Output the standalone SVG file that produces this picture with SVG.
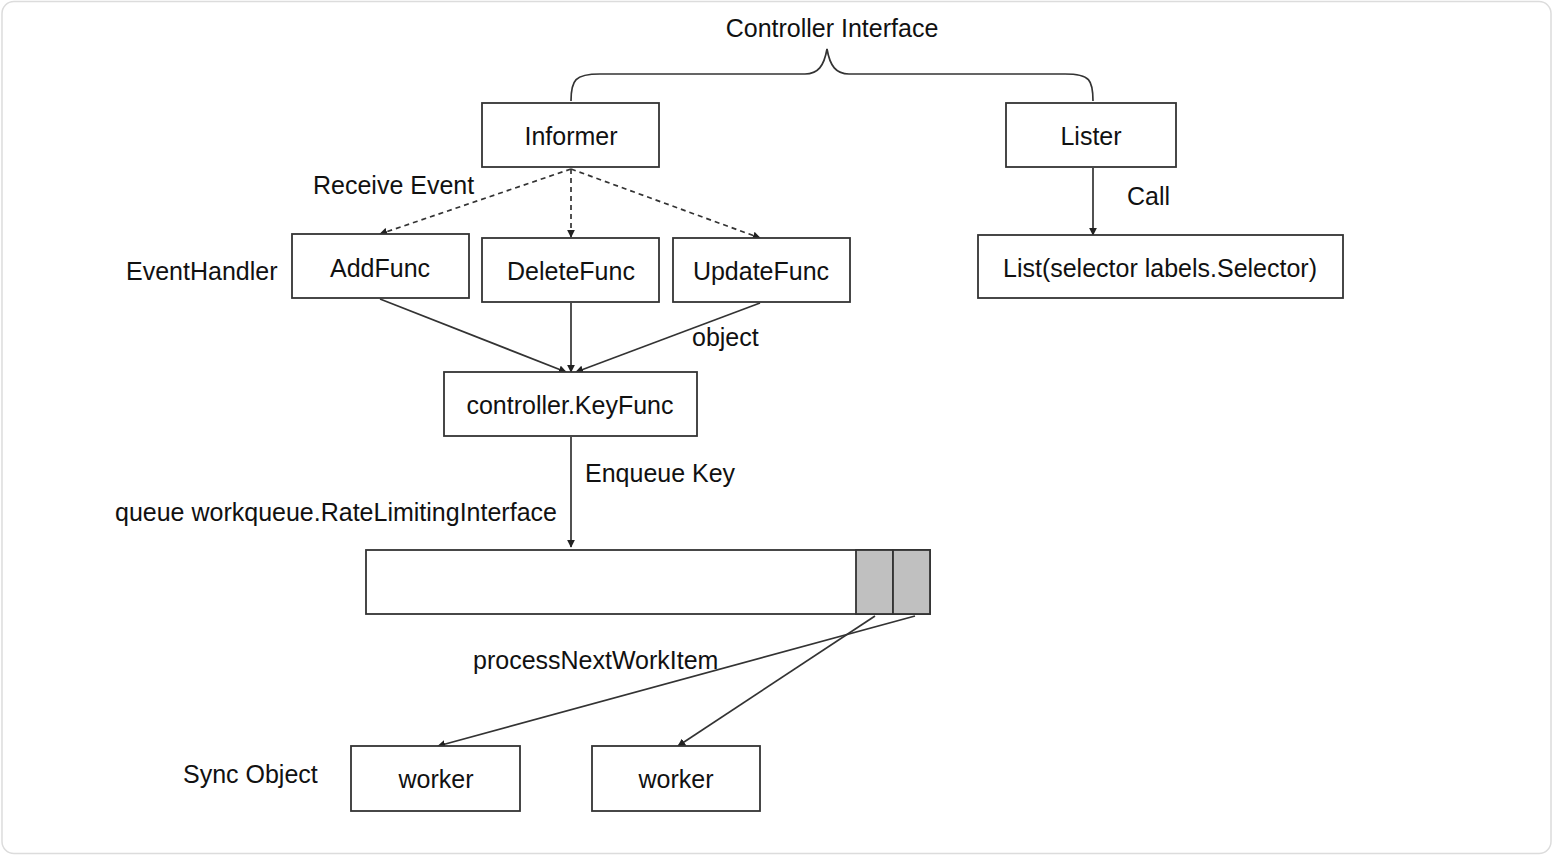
<svg xmlns="http://www.w3.org/2000/svg" width="1554" height="856" viewBox="0 0 1554 856">
  <style>
    .box { fill: #ffffff; stroke: #333333; stroke-width: 1.8; }
    .cell { fill: #c0c0c0; stroke: #333333; stroke-width: 1.8; }
    .lbl { font-family: "Liberation Sans", Arial, sans-serif; font-size: 25px; fill: #111111; }
    .mid { text-anchor: middle; }
    .edge { fill: none; stroke: #333333; stroke-width: 1.7; }
    .dash { stroke-dasharray: 5 4; }
  </style>
  <defs>
    <marker id="arrow" viewBox="0 0 10 10" refX="9" refY="5" markerWidth="8" markerHeight="8" orient="auto" markerUnits="userSpaceOnUse">
      <path d="M0,0 L10,5 L0,10 z" fill="#222222"/>
    </marker>
  </defs>

  <!-- card frame -->
  <rect x="2" y="1.5" width="1549" height="852" rx="12" ry="12" fill="#ffffff" stroke="#dcdcdc" stroke-width="1.5"/>

  <!-- title and brace -->
  <g id="controller-interface">
    <text class="lbl mid" x="832" y="37">Controller Interface</text>
    <path class="edge" d="M571,101 C571,80 575,74 600,74 L805,74 C818,74 824,66 827,49 C830,66 836,74 849,74 L1065,74 C1090,74 1093,80 1093,101"/>
  </g>

  <!-- connectors -->
  <g id="connectors">
    <path class="edge dash" d="M571,169 L380,234" marker-end="url(#arrow)"/>
    <path class="edge dash" d="M571,169 L571,237" marker-end="url(#arrow)"/>
    <path class="edge dash" d="M571,169 L760,238" marker-end="url(#arrow)"/>
    <path class="edge" d="M380,299 L566,372" marker-end="url(#arrow)"/>
    <path class="edge" d="M571,303 L571,372" marker-end="url(#arrow)"/>
    <path class="edge" d="M760,303 L576,372" marker-end="url(#arrow)"/>
    <path class="edge" d="M571,437 L571,547" marker-end="url(#arrow)"/>
    <path class="edge" d="M1093,168 L1093,235" marker-end="url(#arrow)"/>
    <path class="edge" d="M875,616 L678,746" marker-end="url(#arrow)"/>
    <path class="edge" d="M915,616 L438,746" marker-end="url(#arrow)"/>
  </g>

  <!-- edge / side labels -->
  <g id="labels">
    <text class="lbl" x="313" y="194">Receive Event</text>
    <text class="lbl" x="126" y="280">EventHandler</text>
    <text class="lbl" x="692" y="346">object</text>
    <text class="lbl" x="1127" y="205">Call</text>
    <text class="lbl" x="585" y="482">Enqueue Key</text>
    <text class="lbl" x="115" y="521">queue workqueue.RateLimitingInterface</text>
    <text class="lbl" x="473" y="669">processNextWorkItem</text>
    <text class="lbl" x="183" y="783">Sync Object</text>
  </g>

  <g id="informer">
    <rect class="box" x="482" y="103" width="177" height="64"/>
    <text class="lbl mid" x="571" y="145">Informer</text>
  </g>
  <g id="lister">
    <rect class="box" x="1006" y="103" width="170" height="64"/>
    <text class="lbl mid" x="1091" y="145">Lister</text>
  </g>
  <g id="add-func">
    <rect class="box" x="292" y="234" width="177" height="64"/>
    <text class="lbl mid" x="380" y="277">AddFunc</text>
  </g>
  <g id="delete-func">
    <rect class="box" x="482" y="238" width="177" height="64"/>
    <text class="lbl mid" x="571" y="280">DeleteFunc</text>
  </g>
  <g id="update-func">
    <rect class="box" x="673" y="238" width="177" height="64"/>
    <text class="lbl mid" x="761" y="280">UpdateFunc</text>
  </g>
  <g id="list-call">
    <rect class="box" x="978" y="235" width="365" height="63"/>
    <text class="lbl mid" x="1160" y="277">List(selector labels.Selector)</text>
  </g>
  <g id="key-func">
    <rect class="box" x="444" y="372" width="253" height="64"/>
    <text class="lbl mid" x="570" y="414">controller.KeyFunc</text>
  </g>
  <g id="work-queue">
    <rect class="box" x="366" y="550" width="564" height="64"/>
    <rect class="cell" x="856" y="550" width="37" height="64"/>
    <rect class="cell" x="893" y="550" width="37" height="64"/>
  </g>
  <g id="worker-1">
    <rect class="box" x="351" y="746" width="169" height="65"/>
    <text class="lbl mid" x="436" y="788">worker</text>
  </g>
  <g id="worker-2">
    <rect class="box" x="592" y="746" width="168" height="65"/>
    <text class="lbl mid" x="676" y="788">worker</text>
  </g>
</svg>
